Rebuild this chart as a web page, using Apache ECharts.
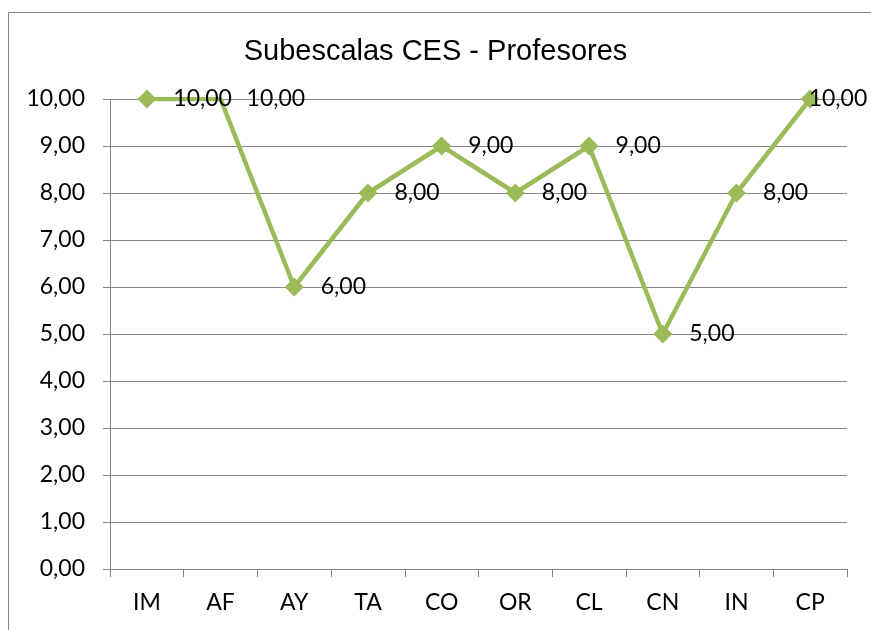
<!DOCTYPE html>
<html><head><meta charset="utf-8">
<script src="https://cdn.jsdelivr.net/npm/echarts@6/dist/echarts.min.js"></script>
<style>html,body{margin:0;padding:0;background:#fff}#c{width:871px;height:630px}</style>
</head><body><div id="c"></div>
<script>
var categories = ['IM','AF','AY','TA','CO','OR','CL','CN','IN','CP'];
var values = [10, 10, 6, 8, 9, 8, 9, 5, 8, 10];
var yTicks = {min: 0, max: 10, interval: 1};
var noMarker = ['AF'];

var chart = echarts.init(document.getElementById('c'));
var fmt = function(v){ return Number(v).toFixed(2).replace('.', ','); };
chart.setOption({
  animation: false,
  backgroundColor: '#fff',
  graphic: [{type:'rect', shape:{x:8.5, y:12.5, width:900, height:700}, style:{fill:'none', stroke:'#868686', lineWidth:1}}],
  title: {text: 'Subescalas CES - Profesores', left: 'center', top: 32,
    textStyle: {fontFamily: 'Liberation Sans', fontWeight: 'normal', fontSize: 29, color: '#000'}},
  grid: {left: 110, right: 24, top: 99, bottom: 61},
  xAxis: {type: 'category', data: categories, boundaryGap: true,
    axisLine: {lineStyle: {color: '#868686', width: 1}},
    axisTick: {show: true, length: 8, alignWithLabel: false, lineStyle: {color: '#868686'}},
    axisLabel: {fontFamily: 'Lato', fontSize: 23, color: '#000', margin: 22}},
  yAxis: {type: 'value', min: yTicks.min, max: yTicks.max, interval: yTicks.interval,
    axisLine: {show: true, lineStyle: {color: '#868686', width: 1}},
    axisTick: {show: true, length: 7, lineStyle: {color: '#868686'}},
    splitLine: {lineStyle: {color: '#868686', width: 1}},
    axisLabel: {fontFamily: 'Lato', fontSize: 23, color: '#000', margin: 25, formatter: fmt}},
  series: [{type: 'line',
    data: values.map(function(v, i){
      var d = {value: v};
      if (noMarker.indexOf(categories[i]) >= 0) d.symbolSize = 0;
      return d;
    }),
    symbol: 'diamond', symbolSize: 19,
    lineStyle: {color: '#9BBB59', width: 4.5},
    itemStyle: {color: '#9BBB59'},
    labelLayout: function(p){
      var o = {hideOverlap: false};
      if (noMarker.indexOf(categories[p.dataIndex]) >= 0) o.dx = 9;
      if (p.dataIndex === values.length - 1) o.dx = -28;
      return o;
    },
    label: {show: true, position: 'right', distance: 17, fontFamily: 'Lato', fontSize: 23, color: '#000',
      formatter: function(p){ return fmt(p.value); }}
  }]
});
</script></body></html>
